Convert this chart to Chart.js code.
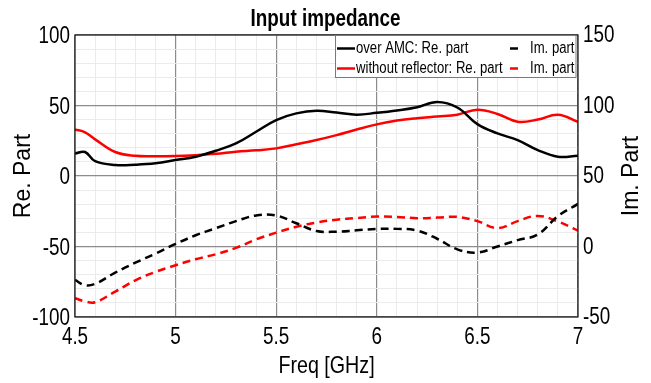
<!DOCTYPE html>
<html>
<head>
<meta charset="utf-8">
<script src="https://cdn.jsdelivr.net/npm/chart.js@4.4.1/dist/chart.umd.min.js"></script>
<style>
  html, body { margin: 0; padding: 0; background: #fff; }
  #wrap { width: 651px; height: 383px; }
</style>
</head>
<body>
<div id="wrap"><canvas id="chart"></canvas></div>
<script>
// frequency points (GHz)
const freq = [4.5, 4.55, 4.6, 4.7, 4.8, 4.9, 5.0, 5.1, 5.2, 5.3, 5.4, 5.5, 5.6, 5.7, 5.8, 5.9, 6.0, 6.1, 6.2, 6.3, 6.4, 6.5, 6.6, 6.7, 6.8, 6.9, 7.0];

// real parts (left axis)
const reAmc = [16, 17, 10.5, 7.8, 8, 9, 11.3, 13.7, 17.9, 23.1, 31.4, 39.7, 44.4, 46.3, 45, 43.5, 44.8, 46.5, 48.8, 52.5, 48.6, 36.8, 30.2, 25.5, 18.4, 13.7, 14.4];
const reNoRefl = [33, 31, 26, 17, 14.3, 14, 14.2, 14.8, 15.7, 17.2, 18.2, 19.6, 22.5, 25.5, 29, 33, 36.6, 39.3, 41, 42.2, 43.5, 47, 44, 38.5, 40, 43.5, 38.5];

// imaginary parts (right axis)
const imAmc = [-23.7, -27.5, -26.5, -18.5, -11.5, -5, 1.8, 8, 13, 18, 22, 22, 16.5, 11, 10.5, 11.5, 12.5, 12.5, 11.3, 5.5, -2, -4.3, 0, 4.5, 8.5, 21.5, 30.2];
const imNoRefl = [-36.6, -39, -39.5, -32, -24, -18, -13.3, -9, -5.5, -1, 5, 9.8, 14, 17, 19, 20.2, 21.2, 21, 20.1, 20.5, 21, 18, 13, 18, 21.7, 17.7, 11.3];

const xTicks = { min: 4.5, max: 7, major: 0.5, minor: 0.1 };
const leftTicks = { min: -100, max: 100, major: 50, minor: 10 };
const rightTicks = { min: -50, max: 150, step: 50 };

const titleText = 'Input impedance';
const xTitle = 'Freq [GHz]';
const leftTitle = 'Re. Part';
const rightTitle = 'Im. Part';
const seriesLabels = ['over AMC: Re. part', 'without reflector: Re. part', 'Im. part', 'Im. part'];

const font = '"Liberation Sans", Arial, sans-serif';
const majorGrid = '#8c8c8c';
const minorGrid = '#ebebeb';
const squeeze = 0.82; // horizontal text in the original is a narrow face

const isMajor = (v, step) => Math.abs(v / step - Math.round(v / step)) < 1e-6;
const pts = arr => freq.map((f, i) => ({ x: f, y: arr[i] }));

// draw un-rotated text narrower, rotated axis titles stay as they are
const narrowText = {
  id: 'narrowText',
  beforeInit(chart) {
    const ctx = chart.ctx;
    const fill = ctx.fillText.bind(ctx);
    ctx.fillText = (text, x, y, maxWidth) => {
      const m = ctx.getTransform();
      if (Math.abs(m.b) > 1e-6) {
        return maxWidth === undefined ? fill(text, x, y) : fill(text, x, y, maxWidth);
      }
      ctx.save();
      ctx.translate(x, y);
      ctx.scale(squeeze, 1);
      if (maxWidth === undefined) fill(text, 0, 0);
      else fill(text, 0, 0, maxWidth / squeeze);
      ctx.restore();
    };
  }
};

const frameLegend = {
  id: 'frameLegend',
  afterDatasetsDraw(chart) {
    const { ctx, chartArea: a } = chart;
    ctx.save();
    // axes box
    ctx.strokeStyle = '#1a1a1a';
    ctx.lineWidth = 1.2;
    ctx.strokeRect(a.left, a.top, a.right - a.left, a.bottom - a.top);

    // legend box, 2 rows x 2 columns
    const bx = 335, by = a.top, bw = 240.5, bh = 42;
    ctx.fillStyle = '#fff';
    ctx.fillRect(bx, by, bw, bh);
    ctx.strokeStyle = '#7a7a7a';
    ctx.lineWidth = 1;
    ctx.strokeRect(bx + 0.5, by + 0.5, bw, bh);
    ctx.font = '16px ' + font;
    ctx.textBaseline = 'middle';
    ctx.fillStyle = '#000';
    const ds = chart.data.datasets;
    const rows = [[0, 2], [1, 3]];
    rows.forEach((r, ri) => {
      const y = by + 13.5 + ri * 20;
      // Re column
      let d = ds[r[0]];
      ctx.strokeStyle = d.borderColor;
      ctx.lineWidth = 2.5;
      ctx.setLineDash([]);
      ctx.beginPath(); ctx.moveTo(bx + 2, y); ctx.lineTo(bx + 20, y); ctx.stroke();
      ctx.textAlign = 'left';
      ctx.fillText(d.label, bx + 21, y);
      // Im column
      d = ds[r[1]];
      ctx.strokeStyle = d.borderColor;
      ctx.setLineDash(d.borderDash);
      ctx.beginPath(); ctx.moveTo(bx + 175, y); ctx.lineTo(bx + 183, y); ctx.stroke();
      ctx.setLineDash([]);
      ctx.textAlign = 'right';
      ctx.fillText(d.label, bx + bw - 1, y);
    });
    ctx.restore();
  },
  afterDraw(chart) {
    const { ctx, chartArea: a } = chart;
    ctx.save();
    ctx.translate(632, (a.top + a.bottom) / 2);
    ctx.rotate(-Math.PI / 2);
    ctx.font = '23px ' + font;
    ctx.fillStyle = '#000';
    ctx.textAlign = 'center';
    ctx.textBaseline = 'middle';
    ctx.fillText(rightTitle, 0, 0);
    ctx.restore();
  }
};

new Chart(document.getElementById('chart'), {
  type: 'line',
  data: {
    datasets: [
      { label: seriesLabels[0], data: pts(reAmc), yAxisID: 'y', borderColor: '#000', borderDash: [] },
      { label: seriesLabels[1], data: pts(reNoRefl), yAxisID: 'y', borderColor: '#ff0000', borderDash: [] },
      { label: seriesLabels[2], data: pts(imAmc), yAxisID: 'y1', borderColor: '#000', borderDash: [8, 5] },
      { label: seriesLabels[3], data: pts(imNoRefl), yAxisID: 'y1', borderColor: '#ff0000', borderDash: [8, 5] }
    ]
  },
  options: {
    responsive: true,
    maintainAspectRatio: false,
    animation: false,
    layout: { padding: 0 },
    elements: {
      point: { radius: 0 },
      line: { borderWidth: 2.5, tension: 0.4, fill: false }
    },
    plugins: {
      legend: { display: false },
      tooltip: { enabled: false },
      title: {
        display: true,
        text: titleText,
        color: '#000',
        font: { family: font, size: 23, weight: 'bold' },
        padding: { top: 6.2, bottom: 1.2 }
      }
    },
    scales: {
      x: {
        type: 'linear',
        min: xTicks.min,
        max: xTicks.max,
        afterFit(s) { s.height = 66; },
        border: { display: false },
        grid: {
          drawTicks: false,
          color: c => isMajor(c.tick.value, xTicks.major) ? majorGrid : minorGrid,
          lineWidth: c => isMajor(c.tick.value, xTicks.major) ? 1.2 : 1
        },
        ticks: {
          stepSize: xTicks.minor,
          autoSkip: false,
          maxRotation: 0,
          padding: 7,
          color: '#000',
          font: { family: font, size: 23 },
          callback: v => isMajor(v, xTicks.major) ? String(Math.round(v * 2) / 2) : ''
        },
        title: {
          display: true,
          text: xTitle,
          color: '#000',
          font: { family: font, size: 24 },
          padding: { top: 0, bottom: 2.6 }
        }
      },
      y: {
        position: 'left',
        min: leftTicks.min,
        max: leftTicks.max,
        afterFit(s) { s.width = 75; },
        border: { display: false },
        grid: {
          drawTicks: false,
          color: c => isMajor(c.tick.value, leftTicks.major) ? majorGrid : minorGrid,
          lineWidth: c => isMajor(c.tick.value, leftTicks.major) ? 1.2 : 1
        },
        ticks: {
          stepSize: leftTicks.minor,
          autoSkip: false,
          padding: 5,
          labelOffset: 2,
          color: '#000',
          font: { family: font, size: 23 },
          callback: v => isMajor(v, leftTicks.major) ? String(v) : ''
        },
        title: {
          display: true,
          text: leftTitle,
          color: '#000',
          font: { family: font, size: 23 },
          padding: { top: 10, bottom: 0 }
        }
      },
      y1: {
        position: 'right',
        min: rightTicks.min,
        max: rightTicks.max,
        afterFit(s) { s.width = 73; },
        border: { display: false },
        grid: { display: false, drawTicks: false },
        ticks: {
          stepSize: rightTicks.step,
          padding: 5,
          labelOffset: 1,
          color: '#000',
          font: { family: font, size: 23 }
        }
      }
    }
  },
  plugins: [narrowText, frameLegend]
});
</script>
</body>
</html>
